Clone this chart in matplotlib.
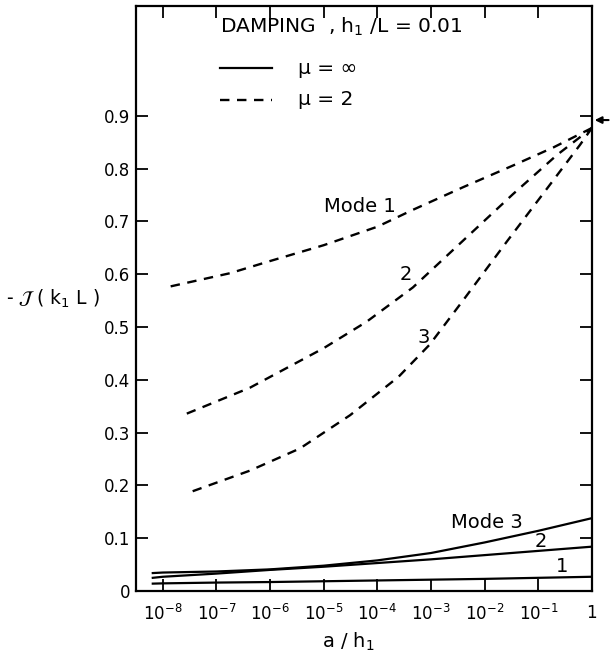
import numpy as np
import matplotlib
matplotlib.use("Agg")
import matplotlib.pyplot as plt
from matplotlib.ticker import FixedLocator, NullLocator

plt.rcParams['font.family'] = ['DejaVu Sans']
plt.rcParams['mathtext.fontset'] = 'dejavusans'

# dashed curves, mu = 2
x_d1 = [1.4e-8, 1.8e-7, 1e-6, 1e-5, 1e-4, 4.6e-4, 4e-3, 3.4e-2, 0.19, 1.0]
y_d1 = [0.577, 0.602, 0.625, 0.655, 0.690, 0.722, 0.765, 0.806, 0.840, 0.877]

x_d2 = [2.8e-8, 4.2e-7, 1e-5, 6.3e-5, 4.6e-4, 4e-3, 3.4e-2, 0.224, 1.0]
y_d2 = [0.336, 0.385, 0.460, 0.510, 0.575, 0.664, 0.752, 0.826, 0.877]

x_d3 = [3.6e-8, 4.2e-7, 3.6e-6, 3.1e-5, 2.5e-4, 9.5e-4, 4e-3, 2.6e-2, 0.145, 0.6, 1.0]
y_d3 = [0.189, 0.228, 0.270, 0.333, 0.406, 0.467, 0.551, 0.662, 0.762, 0.845, 0.877]

# solid curves, mu = inf
x_s = [6.5e-9, 1e-8, 1e-7, 1e-6, 1e-5, 1e-4, 1e-3, 1e-2, 1e-1, 1.0]
y_s1 = [0.014, 0.0145, 0.016, 0.017, 0.0185, 0.020, 0.0215, 0.023, 0.025, 0.027]
y_s2 = [0.025, 0.027, 0.033, 0.040, 0.046, 0.053, 0.060, 0.068, 0.076, 0.084]
y_s3 = [0.034, 0.035, 0.037, 0.041, 0.048, 0.058, 0.072, 0.092, 0.114, 0.138]

xticks = [1e-8, 1e-7, 1e-6, 1e-5, 1e-4, 1e-3, 1e-2, 1e-1, 1.0]
xlabels = [r'$10^{-8}$', r'$10^{-7}$', r'$10^{-6}$', r'$10^{-5}$', r'$10^{-4}$',
           r'$10^{-3}$', r'$10^{-2}$', r'$10^{-1}$', '1']
yticks = [0, 0.1, 0.2, 0.3, 0.4, 0.5, 0.6, 0.7, 0.8, 0.9]
ylabels = ['0', '0.1', '0.2', '0.3', '0.4', '0.5', '0.6', '0.7', '0.8', '0.9']

fig = plt.figure(figsize=(6.14, 6.54), dpi=100)
ax = fig.add_axes([0.2215, 0.0963, 0.7425, 0.8945])

dash = (0, (4, 3.2))
ax.plot(x_d1, y_d1, color='black', lw=1.7, ls=dash)
ax.plot(x_d2, y_d2, color='black', lw=1.7, ls=dash)
ax.plot(x_d3, y_d3, color='black', lw=1.7, ls=dash)
ax.plot(x_s, y_s1, color='black', lw=1.6)
ax.plot(x_s, y_s2, color='black', lw=1.6)
ax.plot(x_s, y_s3, color='black', lw=1.6)

ax.set_xscale('log')
ax.set_xlim(10**-8.5, 1.0)
ax.set_ylim(0, 1.108)
ax.xaxis.set_major_locator(FixedLocator(xticks))
ax.xaxis.set_minor_locator(NullLocator())
ax.set_xticklabels(xlabels, fontsize=12)
ax.set_yticks(yticks)
ax.set_yticklabels(ylabels, fontsize=12)
ax.tick_params(axis='both', which='major', direction='in', length=8.5, width=1.3,
               top=True, right=True)
ax.tick_params(axis='x', pad=9)
ax.tick_params(axis='y', pad=4)
for s in ax.spines.values():
    s.set_linewidth(1.6)

# labels on curves
ax.text(10**-3.65, 0.728, 'Mode 1', fontsize=14, ha='right', va='center')
ax.text(10**-3.47, 0.599, '2', fontsize=14, ha='center', va='center')
ax.text(10**-3.13, 0.48, '3', fontsize=14, ha='center', va='center')
ax.text(10**-1.28, 0.13, 'Mode 3', fontsize=14, ha='right', va='center')
ax.text(10**-0.95, 0.093, '2', fontsize=14, ha='center', va='center')
ax.text(10**-0.56, 0.047, '1', fontsize=14, ha='center', va='center')

# legend block
ax.text(0.184, 0.964, r'DAMPING  , h$_1$ /L = 0.01', transform=ax.transAxes,
        fontsize=14.5, ha='left', va='center')
ax.plot([0.184, 0.298], [0.894, 0.894], transform=ax.transAxes, color='black', lw=1.6)
ax.text(0.355, 0.894, 'μ = ∞', transform=ax.transAxes,
        fontsize=14.5, ha='left', va='center')
ax.plot([0.184, 0.298], [0.840, 0.840], transform=ax.transAxes, color='black',
        lw=1.7, ls=dash)
ax.text(0.355, 0.840, 'μ = 2', transform=ax.transAxes,
        fontsize=14.5, ha='left', va='center')

ax.set_xlabel(r'a / h$_1$', fontsize=14)
ax.xaxis.set_label_coords(0.465, -0.087)
ax.xaxis.label.set_va('center')
ax.set_ylabel(r'- $\mathcal{J}$ ( k$_1$ L )', fontsize=13.5, rotation=0,
              ha='center', va='center')
ax.yaxis.set_label_coords(-0.183, 0.5)

# arrow at right edge
ax.annotate('', xy=(1.0, 0.892), xycoords=('axes fraction', 'data'),
            xytext=(14, 0), textcoords='offset points',
            arrowprops=dict(arrowstyle='-|>', color='black', lw=1.5,
                            mutation_scale=10), annotation_clip=False)

fig.savefig('out.png', dpi=100)
